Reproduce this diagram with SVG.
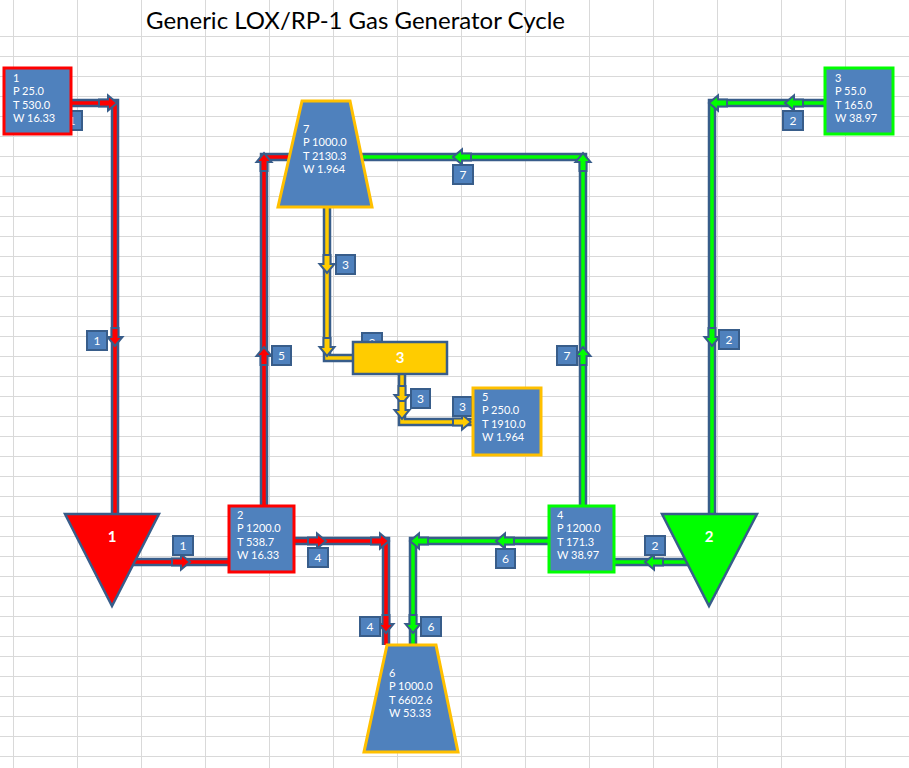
<svg xmlns="http://www.w3.org/2000/svg" xmlns:xlink="http://www.w3.org/1999/xlink" width="909" height="768" viewBox="0 0 909 768">
<style>
.grid line{stroke:#d9d9d9;stroke-width:1}
.out{fill:none;stroke:#385D8A;stroke-width:8.5;stroke-linejoin:miter}
.inR{fill:none;stroke:#FF0000;stroke-width:3.5}
.inG{fill:none;stroke:#00FF00;stroke-width:3.5}
.inY{fill:none;stroke:#FFCC00;stroke-width:3.5}
.lbl rect{fill:#4F81BD;stroke:#385D8A;stroke-width:2}
.lbl text{fill:#fff;font-family:Lato,"Liberation Sans",sans-serif;font-size:12px;text-anchor:middle}
.box{fill:#4F81BD;stroke-width:3}
.nt{fill:#fff;font-family:Lato,"Liberation Sans",sans-serif;font-size:11px}
.big{fill:#fff;font-family:Lato,"Liberation Sans",sans-serif;font-size:15px;text-anchor:middle;font-weight:bold}
</style>
<defs>
<polygon id="arr" points="-9,-3.5 0,-3.5 0,-7.5 9,0 0,7.5 0,3.5 -9,3.5" stroke="#385D8A" stroke-width="2" stroke-linejoin="miter"/>
</defs>
<rect x="0" y="0" width="909" height="768" fill="#fff"/>
<g class="grid">
<line x1="13.5" y1="0" x2="13.5" y2="768"/><line x1="77.5" y1="0" x2="77.5" y2="768"/><line x1="141.5" y1="0" x2="141.5" y2="768"/><line x1="205.5" y1="0" x2="205.5" y2="768"/><line x1="269.5" y1="0" x2="269.5" y2="768"/><line x1="333.5" y1="0" x2="333.5" y2="768"/><line x1="397.5" y1="0" x2="397.5" y2="768"/><line x1="461.5" y1="0" x2="461.5" y2="768"/><line x1="525.5" y1="0" x2="525.5" y2="768"/><line x1="589.5" y1="0" x2="589.5" y2="768"/><line x1="653.5" y1="0" x2="653.5" y2="768"/><line x1="717.5" y1="0" x2="717.5" y2="768"/><line x1="781.5" y1="0" x2="781.5" y2="768"/><line x1="845.5" y1="0" x2="845.5" y2="768"/>
<line x1="0" y1="36.5" x2="909" y2="36.5"/><line x1="0" y1="56.5" x2="909" y2="56.5"/><line x1="0" y1="76.5" x2="909" y2="76.5"/><line x1="0" y1="96.5" x2="909" y2="96.5"/><line x1="0" y1="116.5" x2="909" y2="116.5"/><line x1="0" y1="136.5" x2="909" y2="136.5"/><line x1="0" y1="156.5" x2="909" y2="156.5"/><line x1="0" y1="176.5" x2="909" y2="176.5"/><line x1="0" y1="196.5" x2="909" y2="196.5"/><line x1="0" y1="216.5" x2="909" y2="216.5"/><line x1="0" y1="236.5" x2="909" y2="236.5"/><line x1="0" y1="256.5" x2="909" y2="256.5"/><line x1="0" y1="276.5" x2="909" y2="276.5"/><line x1="0" y1="296.5" x2="909" y2="296.5"/><line x1="0" y1="316.5" x2="909" y2="316.5"/><line x1="0" y1="336.5" x2="909" y2="336.5"/><line x1="0" y1="356.5" x2="909" y2="356.5"/><line x1="0" y1="376.5" x2="909" y2="376.5"/><line x1="0" y1="396.5" x2="909" y2="396.5"/><line x1="0" y1="416.5" x2="909" y2="416.5"/><line x1="0" y1="436.5" x2="909" y2="436.5"/><line x1="0" y1="456.5" x2="909" y2="456.5"/><line x1="0" y1="476.5" x2="909" y2="476.5"/><line x1="0" y1="496.5" x2="909" y2="496.5"/><line x1="0" y1="516.5" x2="909" y2="516.5"/><line x1="0" y1="536.5" x2="909" y2="536.5"/><line x1="0" y1="556.5" x2="909" y2="556.5"/><line x1="0" y1="576.5" x2="909" y2="576.5"/><line x1="0" y1="596.5" x2="909" y2="596.5"/><line x1="0" y1="616.5" x2="909" y2="616.5"/><line x1="0" y1="636.5" x2="909" y2="636.5"/><line x1="0" y1="656.5" x2="909" y2="656.5"/><line x1="0" y1="676.5" x2="909" y2="676.5"/><line x1="0" y1="696.5" x2="909" y2="696.5"/><line x1="0" y1="716.5" x2="909" y2="716.5"/><line x1="0" y1="736.5" x2="909" y2="736.5"/><line x1="0" y1="756.5" x2="909" y2="756.5"/>
</g>
<text x="146" y="29" font-family="Lato,'Liberation Sans',sans-serif" font-size="24" fill="#000" textLength="419" lengthAdjust="spacingAndGlyphs">Generic LOX/RP-1 Gas Generator Cycle</text>

<g id="connectors">
<path class="out" d="M71,103 H115 V513"/><path class="inR" d="M71,103 H115 V513"/>
<path class="out" d="M130,562 H229"/><path class="inR" d="M130,562 H229"/>
<path class="out" d="M264,505 V157 H300"/><path class="inR" d="M264,505 V157 H300"/>
<path class="out" d="M294,541 H386 V645"/><path class="inR" d="M294,541 H386 V645"/>
<path class="out" d="M825,103 H712 V513"/><path class="inG" d="M825,103 H712 V513"/>
<path class="out" d="M690,562 H614"/><path class="inG" d="M690,562 H614"/>
<path class="out" d="M583,505 V157 H355"/><path class="inG" d="M583,505 V157 H355"/>
<path class="out" d="M548,541 H413 V645"/><path class="inG" d="M548,541 H413 V645"/>
<path class="out" d="M327,207 V358 H353"/><path class="inY" d="M327,207 V358 H353"/>
<path class="out" d="M402,374 V422 H473"/><path class="inY" d="M402,374 V422 H473"/>
<g fill="#FF0000">
<use xlink:href="#arr" transform="translate(108,103)"/>
<use xlink:href="#arr" transform="translate(115,337) rotate(90)"/>
<use xlink:href="#arr" transform="translate(181,562)"/>
<use xlink:href="#arr" transform="translate(317,541)"/>
<use xlink:href="#arr" transform="translate(380,541)"/>
<use xlink:href="#arr" transform="translate(386,624) rotate(90)"/>
<use xlink:href="#arr" transform="translate(264,162) rotate(-90)"/>
<use xlink:href="#arr" transform="translate(264,356) rotate(-90)"/>
</g>
<g fill="#00FF00">
<use xlink:href="#arr" transform="translate(794,103) rotate(180)"/>
<use xlink:href="#arr" transform="translate(718,103) rotate(180)"/>
<use xlink:href="#arr" transform="translate(712,337) rotate(90)"/>
<use xlink:href="#arr" transform="translate(654,562) rotate(180)"/>
<use xlink:href="#arr" transform="translate(505,541) rotate(180)"/>
<use xlink:href="#arr" transform="translate(419,541) rotate(180)"/>
<use xlink:href="#arr" transform="translate(413,624) rotate(90)"/>
<use xlink:href="#arr" transform="translate(583,356) rotate(-90)"/>
<use xlink:href="#arr" transform="translate(583,162) rotate(-90)"/>
<use xlink:href="#arr" transform="translate(462,157) rotate(180)"/>
</g>
<g fill="#FFCC00">
<use xlink:href="#arr" transform="translate(327,264) rotate(90)"/>
<use xlink:href="#arr" transform="translate(327,347) rotate(90)"/>
<use xlink:href="#arr" transform="translate(402,395) rotate(90)"/>
<use xlink:href="#arr" transform="translate(402,410) rotate(90)"/>
<use xlink:href="#arr" transform="translate(462,422)"/>
</g>
<g class="lbl">
<rect x="62" y="111" width="20" height="19"/><text x="72" y="125">1</text>
<rect x="87" y="331" width="20" height="19"/><text x="97" y="345">1</text>
<rect x="173" y="536" width="20" height="19"/><text x="183" y="550">1</text>
<rect x="272" y="346" width="19" height="19"/><text x="281.5" y="360">5</text>
<rect x="308" y="548" width="20" height="19"/><text x="318" y="562">4</text>
<rect x="360" y="617" width="20" height="19"/><text x="370" y="631">4</text>
<rect x="421" y="617" width="20" height="19"/><text x="431" y="631">6</text>
<rect x="496" y="549" width="19" height="19"/><text x="505.5" y="563">6</text>
<rect x="645" y="536" width="20" height="19"/><text x="655" y="550">2</text>
<rect x="719" y="330" width="20" height="19"/><text x="729" y="344">2</text>
<rect x="783" y="111" width="20" height="19"/><text x="793" y="125">2</text>
<rect x="453" y="165" width="20" height="19"/><text x="463" y="179">7</text>
<rect x="557" y="346" width="20" height="19"/><text x="567" y="360">7</text>
<rect x="336" y="255" width="19" height="19"/><text x="345.5" y="269">3</text>
<rect x="362" y="333" width="20" height="19"/><text x="372" y="347">3</text>
<rect x="411" y="389" width="19" height="19"/><text x="420.5" y="403">3</text>
<rect x="453" y="397" width="19" height="19"/><text x="462.5" y="411">3</text>
</g>
</g>

<g id="node1">
<rect class="box" x="4" y="68" width="67" height="66" stroke="#FF0000"/>
<text class="nt" x="13" y="82">1</text><text class="nt" x="13" y="95.4">P 25.0</text><text class="nt" x="13" y="108.8">T 530.0</text><text class="nt" x="13" y="122.2">W 16.33</text>
</g>
<g id="node3top">
<rect class="box" x="825" y="68" width="68" height="66" stroke="#00FF00"/>
<text class="nt" x="835" y="82">3</text><text class="nt" x="835" y="95.4">P 55.0</text><text class="nt" x="835" y="108.8">T 165.0</text><text class="nt" x="835" y="122.2">W 38.97</text>
</g>
<g id="node7">
<polygon points="302,101 350,101 372,207 278,207" fill="#4F81BD" stroke="#FFC000" stroke-width="3"/>
<text class="nt" x="303" y="133">7</text><text class="nt" x="303" y="146.4">P 1000.0</text><text class="nt" x="303" y="159.8">T 2130.3</text><text class="nt" x="303" y="173.2">W 1.964</text>
</g>
<g id="gasgen3">
<rect x="353" y="342" width="94" height="32" fill="#FFCC00" stroke="#385D8A" stroke-width="2.5"/>
<text class="big" x="400" y="363">3</text>
</g>
<g id="node5">
<rect class="box" x="473" y="388" width="68" height="67" stroke="#FFC000"/>
<text class="nt" x="482" y="401">5</text><text class="nt" x="482" y="414.4">P 250.0</text><text class="nt" x="482" y="427.8">T 1910.0</text><text class="nt" x="482" y="441.2">W 1.964</text>
</g>
<g id="pump1">
<polygon points="65,514 159,514 112,606" fill="#FF0000" stroke="#385D8A" stroke-width="2.5"/>
<text class="big" x="112" y="542">1</text>
</g>
<g id="pump2">
<polygon points="662,514 757,514 709,606" fill="#00FF00" stroke="#385D8A" stroke-width="2.5"/>
<text class="big" x="709" y="542">2</text>
</g>
<g id="node2">
<rect class="box" x="229" y="506" width="65" height="66" stroke="#FF0000"/>
<text class="nt" x="237" y="519">2</text><text class="nt" x="237" y="532.4">P 1200.0</text><text class="nt" x="237" y="545.8">T 538.7</text><text class="nt" x="237" y="559.2">W 16.33</text>
</g>
<g id="node4">
<rect class="box" x="549" y="506" width="65" height="66" stroke="#00FF00"/>
<text class="nt" x="557" y="519">4</text><text class="nt" x="557" y="532.4">P 1200.0</text><text class="nt" x="557" y="545.8">T 171.3</text><text class="nt" x="557" y="559.2">W 38.97</text>
</g>
<g id="node6">
<polygon points="387,645 436,645 458,752 364,752" fill="#4F81BD" stroke="#FFC000" stroke-width="3"/>
<text class="nt" x="389" y="677">6</text><text class="nt" x="389" y="690.4">P 1000.0</text><text class="nt" x="389" y="703.8">T 6602.6</text><text class="nt" x="389" y="717.2">W 53.33</text>
</g>
</svg>
